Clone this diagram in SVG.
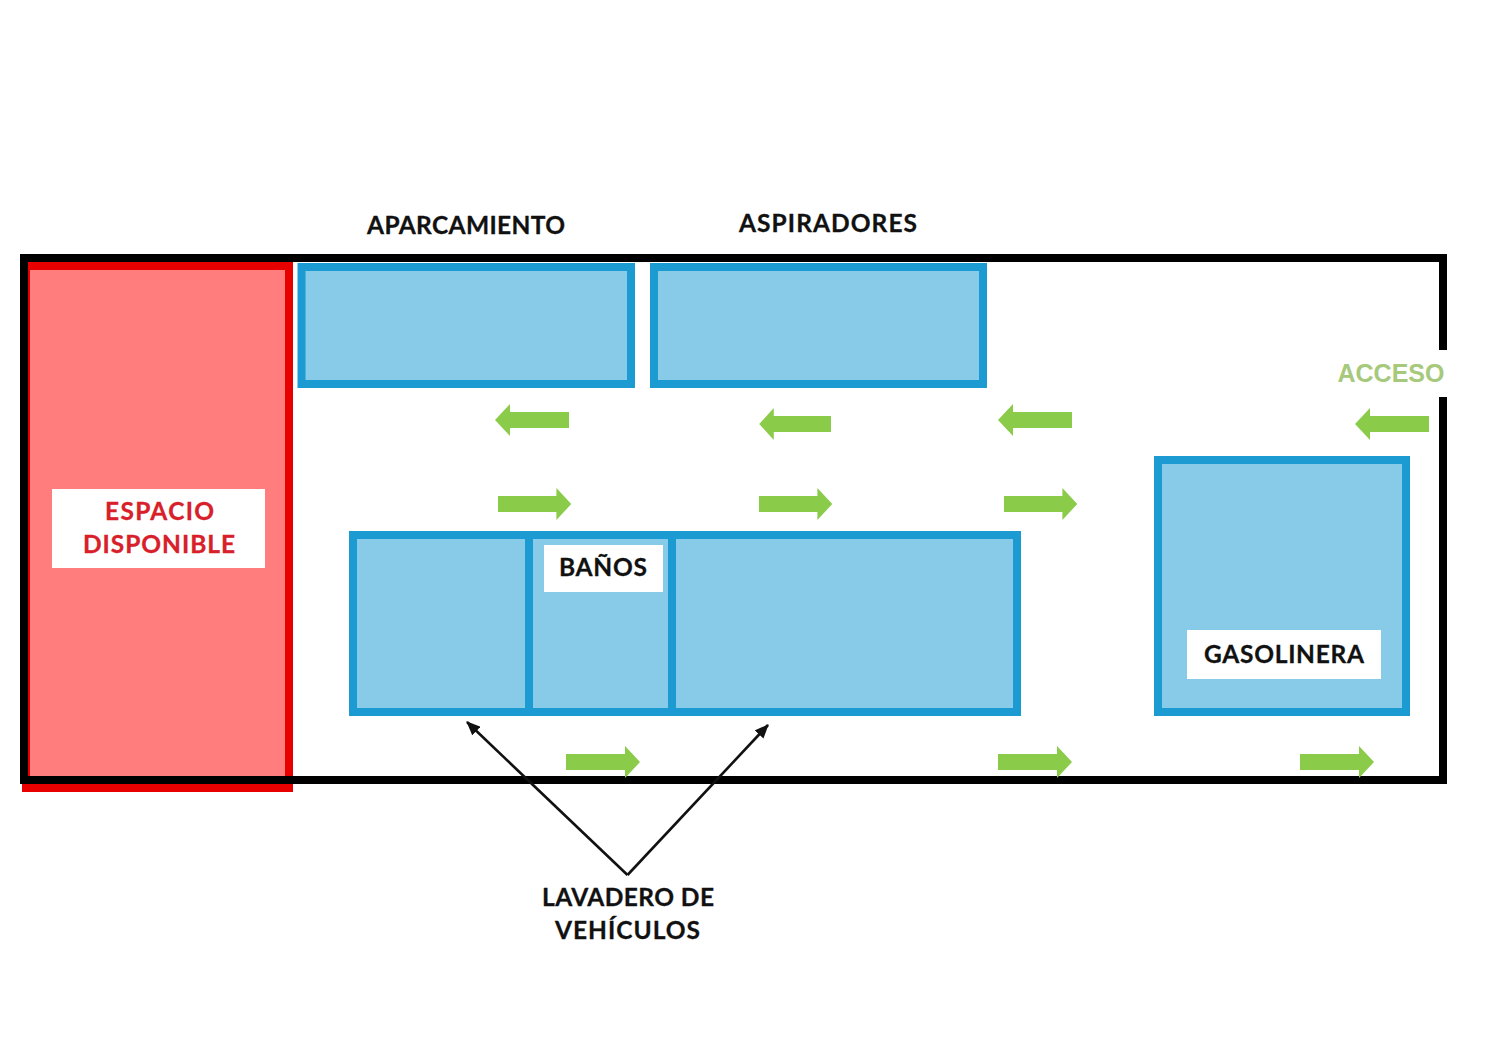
<svg xmlns="http://www.w3.org/2000/svg" width="1500" height="1038" viewBox="0 0 1500 1038">
<style>
.zone{fill:#87cbe9;stroke:#1b9bd2;stroke-width:8}
.lab{fill:#fff}
.t{font-family:"Lato","Liberation Sans",sans-serif;font-weight:700;font-size:24.5px;fill:#111;stroke:#111;stroke-width:.3;text-anchor:middle}
.r{fill:#d8202a;stroke:#d8202a}
.flow{fill:#8acb4a}
.ptr{stroke:#111;stroke-width:2.6;fill:none;marker-end:url(#tip)}
</style>
<defs>
<marker id="tip" markerUnits="userSpaceOnUse" markerWidth="14" markerHeight="12" refX="13" refY="6" orient="auto"><path d="M0 0L14 6L0 12Z" fill="#111"/></marker>
<path id="ar" d="M0-8H59V-16L74 0L59 16V8H0Z"/>
</defs>
<rect width="1500" height="1038" fill="#fff"/>
<g id="espacio-disponible">
<rect x="26" y="266" width="263" height="522" fill="#ff7d7d" stroke="#e80000" stroke-width="8"/>
</g>
<g id="perimetro"><path d="M1443 350V258H24V780H1443V397" fill="none" stroke="#000" stroke-width="8"/></g>
<g id="aparcamiento"><rect class="zone" x="301.500" y="267" width="329.500" height="117"/>
<text class="t" x="466" y="234" textLength="198">APARCAMIENTO</text></g>
<g id="aspiradores"><rect class="zone" x="654" y="267" width="329" height="117"/>
<text class="t" x="828" y="232" textLength="178">ASPIRADORES</text></g>
<g id="lavadero-1"><rect class="zone" x="353" y="535" width="176" height="177"/></g>
<g id="lavadero-2"><rect class="zone" x="672" y="535" width="345" height="177"/></g>
<g id="banos"><rect class="zone" x="529" y="535" width="143" height="177"/>
<rect class="lab" x="544" y="545" width="119" height="47"/>
<text class="t" x="603" y="576" textLength="88">BAÑOS</text></g>
<g id="gasolinera"><rect class="zone" x="1158" y="460" width="248" height="252"/>
<rect class="lab" x="1187" y="630" width="194" height="49"/>
<text class="t" x="1284" y="663" textLength="160">GASOLINERA</text></g>
<g id="espacio-label"><rect class="lab" x="52" y="489" width="213" height="79"/>
<text class="t r" x="159.500" y="520" textLength="109">ESPACIO</text>
<text class="t r" x="159" y="553" textLength="152">DISPONIBLE</text></g>
<g id="acceso"><text x="1391" y="382" text-anchor="middle" style="font-family:'Liberation Sans',sans-serif;font-weight:700;font-size:25px;fill:#a6c97c">ACCESO</text></g>
<g id="lavadero-label"><text class="t" x="628" y="906" textLength="172">LAVADERO DE</text>
<text class="t" x="627.500" y="939" textLength="145">VEHÍCULOS</text></g>
<g id="connectors">
<g class="flow">
<use href="#ar" transform="translate(569 420) scale(-1 1)"/>
<use href="#ar" transform="translate(831 424) scale(-.97 1)"/>
<use href="#ar" transform="translate(1072 420) scale(-1 1)"/>
<use href="#ar" transform="translate(1429 424) scale(-1 1)"/>
<use href="#ar" transform="translate(498 504) scale(.99 1)"/>
<use href="#ar" transform="translate(759 504) scale(.99 1)"/>
<use href="#ar" transform="translate(1004 504) scale(.99 1)"/>
<use href="#ar" transform="translate(566 762)"/>
<use href="#ar" transform="translate(998 762)"/>
<use href="#ar" transform="translate(1300 762)"/>
</g>
<path class="ptr" d="M627.500 875L467 722"/>
<path class="ptr" d="M627.500 875L768 725"/>
</g>
</svg>
